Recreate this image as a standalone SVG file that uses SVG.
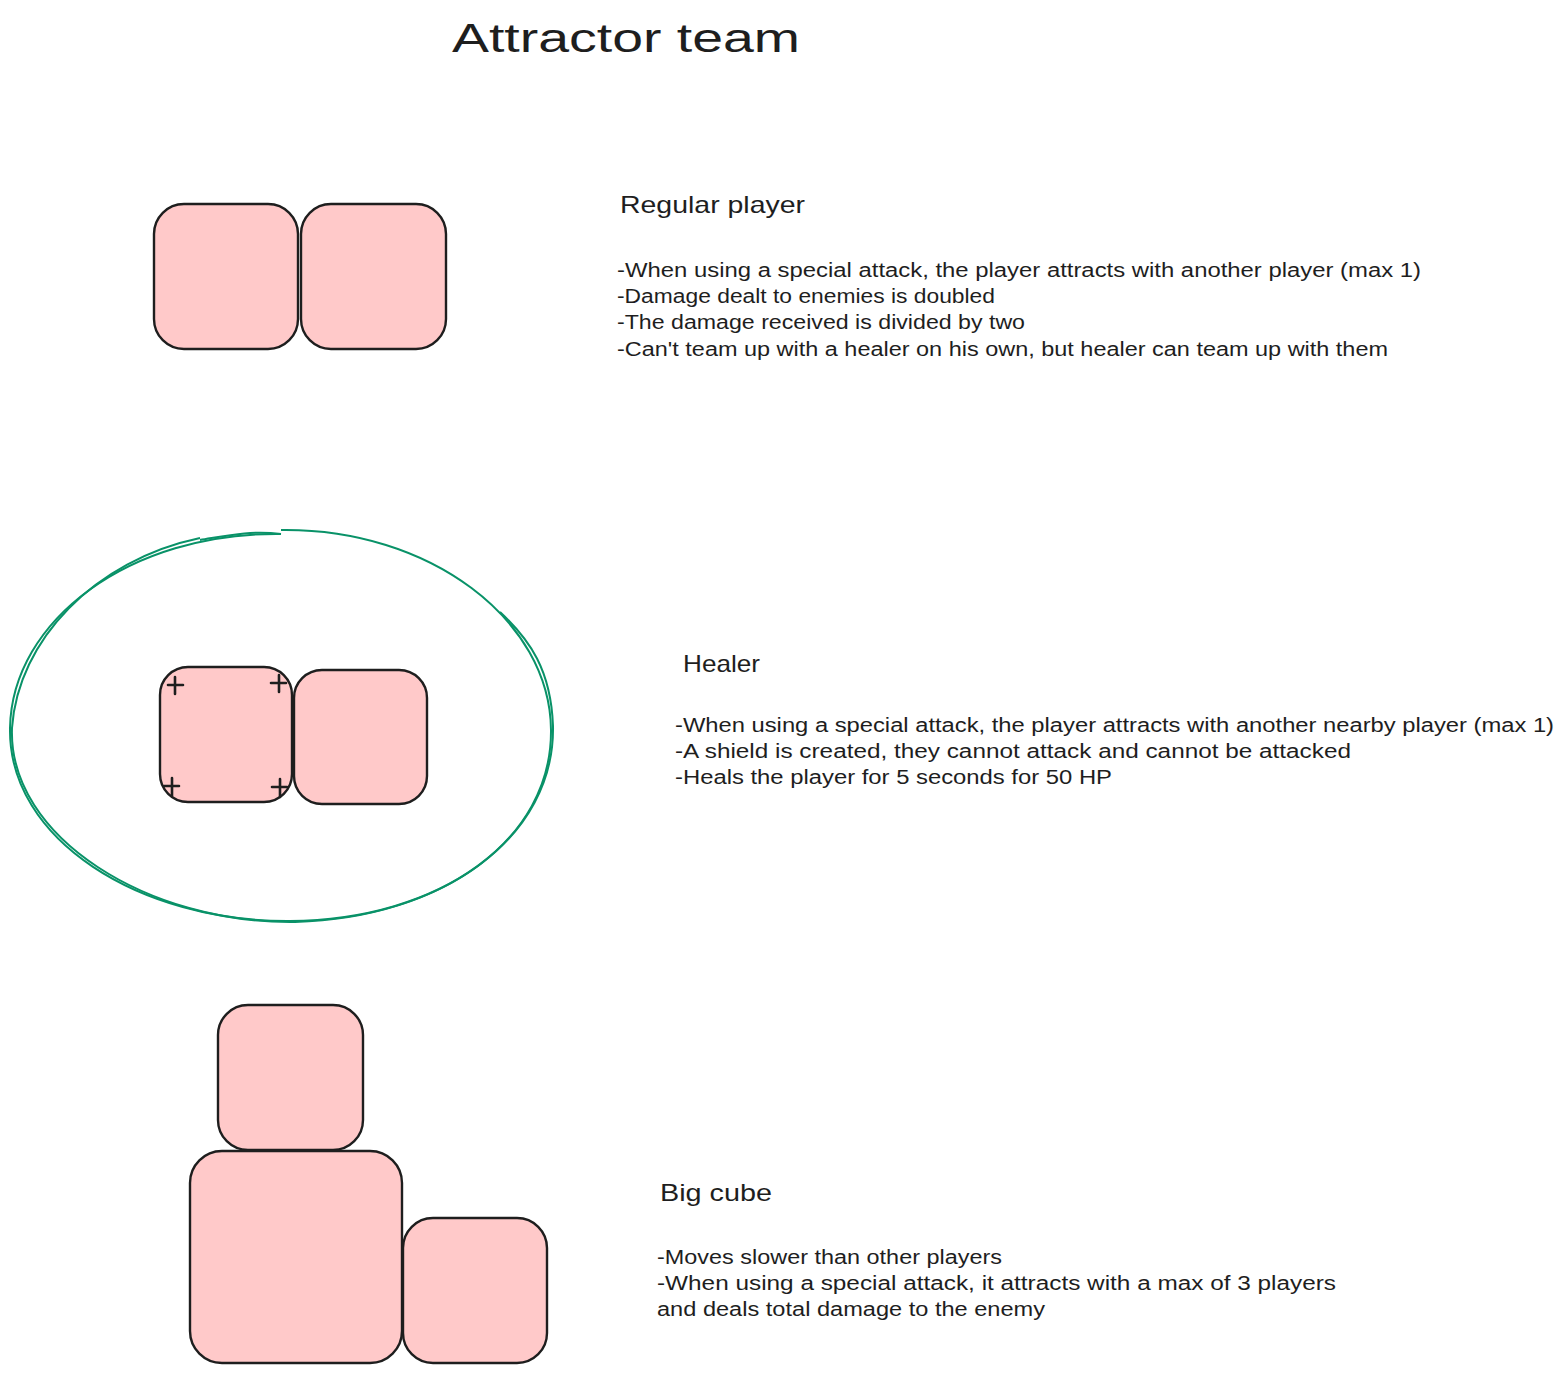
<svg xmlns="http://www.w3.org/2000/svg" width="1564" height="1373" viewBox="0 0 1564 1373">
<style>
.cube{fill:#ffc9c9;stroke:#1e1e1e;stroke-width:2.4}
.t{font-family:"Liberation Sans",Arial,sans-serif;fill:#1e1e1e}
.h{font-size:24px}
.b{font-size:20px}
.plus{stroke:#1e1e1e;stroke-width:2.6;fill:none;stroke-linecap:round}
.shield{fill:none;stroke:#099268;stroke-width:2}
</style>
<rect width="1564" height="1373" fill="#ffffff"/>
<text class="t" x="452" y="52" font-size="40" textLength="348" lengthAdjust="spacingAndGlyphs">Attractor team</text>

<g id="regular-player">
<rect class="cube" x="154" y="204" width="144" height="145" rx="30"/>
<rect class="cube" x="301" y="204" width="145" height="145" rx="30"/>
</g>
<g id="regular-text">
<text class="t h" x="620" y="213" textLength="185" lengthAdjust="spacingAndGlyphs">Regular player</text>
<text class="t b" x="617" y="277" textLength="804" lengthAdjust="spacingAndGlyphs">-When using a special attack, the player attracts with another player (max 1)</text>
<text class="t b" x="617" y="303" textLength="378" lengthAdjust="spacingAndGlyphs">-Damage dealt to enemies is doubled</text>
<text class="t b" x="617" y="329" textLength="408" lengthAdjust="spacingAndGlyphs">-The damage received is divided by two</text>
<text class="t b" x="617" y="356" textLength="771" lengthAdjust="spacingAndGlyphs">-Can't team up with a healer on his own, but healer can team up with them</text>
</g>

<g id="healer">
<path class="shield" d="M281 534 C 130 532, 12 620, 10 728 C 8 840, 140 922, 290 921 C 440 920, 552 840, 551 730 C 550 620, 430 528, 281 530"/>
<path class="shield" d="M200 538 C 95 560, 18 640, 12 728 C 8 838, 150 924, 295 922 C 445 918, 555 836, 553 726 C 551 670, 530 640, 500 612"/>
<path class="shield" d="M281 534 C 250 530, 225 536, 200 540"/>
<rect class="cube" x="160" y="667" width="132" height="135" rx="28"/>
<rect class="cube" x="294" y="670" width="133" height="134" rx="28"/>
<path class="plus" d="M168 685 H183 M175 677 V694 M271 683 H286 M279 675 V692 M164 786 H179 M172 778 V796 M272 787 H287 M280 779 V797"/>
</g>
<g id="healer-text">
<text class="t h" x="683" y="672" textLength="77" lengthAdjust="spacingAndGlyphs">Healer</text>
<text class="t b" x="675" y="732" textLength="879" lengthAdjust="spacingAndGlyphs">-When using a special attack, the player attracts with another nearby player (max 1)</text>
<text class="t b" x="675" y="758" textLength="676" lengthAdjust="spacingAndGlyphs">-A shield is created, they cannot attack and cannot be attacked</text>
<text class="t b" x="675" y="784" textLength="437" lengthAdjust="spacingAndGlyphs">-Heals the player for 5 seconds for 50 HP</text>
</g>

<g id="big-cube">
<rect class="cube" x="218" y="1005" width="145" height="145" rx="30"/>
<rect class="cube" x="190" y="1151" width="212" height="212" rx="32"/>
<rect class="cube" x="403" y="1218" width="144" height="145" rx="30"/>
</g>
<g id="big-cube-text">
<text class="t h" x="660" y="1201" textLength="112" lengthAdjust="spacingAndGlyphs">Big cube</text>
<text class="t b" x="657" y="1264" textLength="345" lengthAdjust="spacingAndGlyphs">-Moves slower than other players</text>
<text class="t b" x="657" y="1290" textLength="679" lengthAdjust="spacingAndGlyphs">-When using a special attack, it attracts with a max of 3 players</text>
<text class="t b" x="657" y="1316" textLength="388" lengthAdjust="spacingAndGlyphs">and deals total damage to the enemy</text>
</g>
<g id="connectors"/>
</svg>
